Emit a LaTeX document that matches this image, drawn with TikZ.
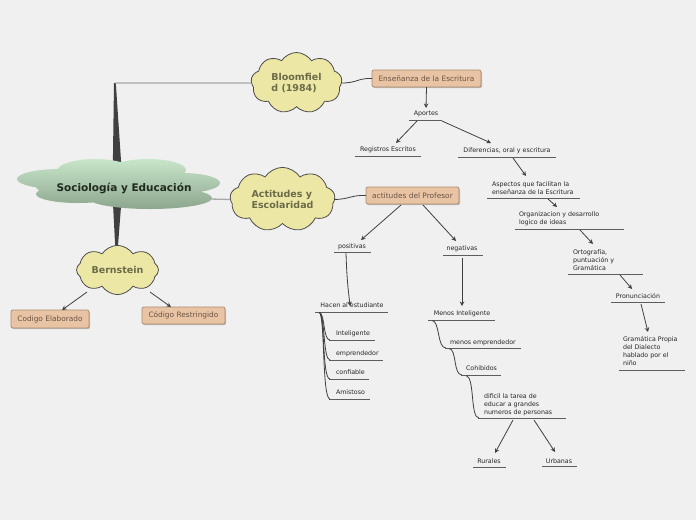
\documentclass[tikz,border=0pt]{standalone}
\usepackage{fontspec}
\setmainfont{DejaVu Sans}
\usetikzlibrary{shapes.symbols,arrows.meta,shadows,calc}
\definecolor{bg}{HTML}{F0F0F0}
\definecolor{ln}{HTML}{404040}
\definecolor{grayln}{HTML}{A8A8A8}
\definecolor{boxfill}{HTML}{E8C4A4}
\definecolor{boxdraw}{HTML}{A88A6E}
\definecolor{boxtext}{HTML}{6A5444}
\definecolor{cloudy}{HTML}{EDE7A6}
\definecolor{cloudtext}{HTML}{6B6B48}
\definecolor{grn1}{HTML}{C8E6CA}
\definecolor{grn2}{HTML}{8DA68F}
\definecolor{centtext}{HTML}{1E2A1E}
\tikzset{
  every node/.style={inner sep=0pt, outer sep=0pt},
  lbl/.style={font=\fontsize{6.3}{8}\selectfont, text=black!85, align=left, yshift=-1.3pt},
  box/.style={draw=boxdraw, fill=boxfill, rounded corners=2pt, line width=0.7pt,
    font=\fontsize{7.4}{9}\selectfont, text=boxtext,
    drop shadow={shadow xshift=1pt, shadow yshift=-1.2pt, fill=black!40, opacity=0.6}},
  ycloud/.style={cloud, cloud puffs=9, cloud puff arc=115, draw=black!70, fill=cloudy,
    line width=0.8pt, font=\bfseries\fontsize{9.5}{11}\selectfont, text=cloudtext, align=left},
  uline/.style={draw=ln!85, line width=1pt},
  arr/.style={draw=ln, line width=0.8pt, -{Stealth[length=4.5pt,width=4.5pt]}},
  curvy/.style={draw=ln, line width=0.8pt},
  trunk/.style={fill=ln},
  greyline/.style={draw=grayln, line width=1.3pt},
}
\begin{document}
\begin{tikzpicture}[x=1pt,y=-1pt]
\fill[bg] (0,0) rectangle (696,520);
\useasboundingbox (0,0) rectangle (696,520);

% trunk
\fill[trunk] (114,83) -- (115.8,83) -- (121.5,168) -- (112.8,168) -- cycle;
\fill[trunk] (112.8,200) -- (121.5,200) -- (117.5,252) -- (115.5,252) -- cycle;
\coordinate (trunktop) at (115,83);
\coordinate (centright) at (210,199);

% central cloud
\shade[top color=grn1, bottom color=grn2]
  (60,179) ellipse [x radius=43, y radius=10]
  (95,171) ellipse [x radius=38, y radius=12]
  (148,170) ellipse [x radius=38, y radius=11]
  (182,183) ellipse [x radius=38, y radius=10]
  (78,194) ellipse [x radius=42, y radius=9]
  (150,198) ellipse [x radius=62, y radius=11]
  (120,185) ellipse [x radius=85, y radius=17];
\node[font=\bfseries\fontsize{10.5}{12}\selectfont, text=centtext] (central) at (124,188) {Sociología y Educación};

% yellow clouds
\node[ycloud, aspect=1.5, minimum width=91pt, minimum height=61pt] (bloom) at (296.5,83) {Bloomfiel\\d (1984)};
\node[ycloud, aspect=1.72, minimum width=105pt, minimum height=61pt] (actit) at (282.5,199.5) {Actitudes y\\Escolaridad};
\node[ycloud, aspect=2, minimum width=82pt, minimum height=41pt, cloud puffs=8] (bern) at (117.5,270) {Bernstein};

\draw[greyline] (trunktop) -- (bloom.west);
\draw[greyline] (centright) -- (actit.west);

% boxes
\node[box, minimum width=109pt, minimum height=17pt] (ens) at (426.5,78.5) {Enseñanza de la Escritura};
\node[box, minimum width=93pt, minimum height=17pt] (prof) at (412.5,195.5) {actitudes del Profesor};
\node[box, minimum width=78pt, minimum height=18pt] (elab) at (50,319) {Codigo Elaborado};
\node[box, minimum width=83pt, minimum height=17pt] (restr) at (183.5,315.5) {Código Restringido};

\draw[curvy] (bloom.east) .. controls (358,83) and (357,78) .. (ens.west);
\draw[curvy] (actit.east) .. controls (351,199) and (350,195) .. (prof.west);

% labels
\node[lbl] (aportes) at (426,113) {Aportes};
\node[lbl] (reg) at (388,148) {Registros Escritos};
\node[lbl] (dif) at (507,149) {Diferencias, oral y escritura};
\node[lbl, anchor=west] (asp) at (492,187) {Aspectos que facilitan la\\enseñanza de la Escritura};
\node[lbl, anchor=west] (org) at (519,217.5) {Organizacion y desarrollo\\logico de ideas};
\node[lbl, anchor=west] (orto) at (573,259) {Ortografía,\\puntuación y\\Gramática};
\node[lbl] (pron) at (638,295) {Pronunciación};
\node[lbl, anchor=west] (gram) at (623,350) {Gramática Propia\\del Dialecto\\hablado por el\\niño};
\node[lbl] (pos) at (352,245) {positivas};
\node[lbl] (neg) at (462,247) {negativas};
\node[lbl] (hacen) at (352,304) {Hacen al estudiante};
\node[lbl, anchor=west] (intel) at (336,332) {Inteligente};
\node[lbl, anchor=west] (empr) at (336,352) {emprendedor};
\node[lbl, anchor=west] (conf) at (336,371) {confiable};
\node[lbl, anchor=west] (amis) at (336,391) {Amistoso};
\node[lbl] (menint) at (462,312) {Menos Inteligente};
\node[lbl, anchor=west] (menemp) at (450,341) {menos emprendedor};
\node[lbl, anchor=west] (cohib) at (466,367) {Cohibidos};
\node[lbl, anchor=west] (dific) at (484,403) {dificil la tarea de\\educar a grandes\\numeros de personas};
\node[lbl] (rur) at (489,460) {Rurales};
\node[lbl] (urb) at (559,460) {Urbanas};

% underlines
\draw[uline] (409,120.5) -- (442,120.5);
\draw[uline] (355,156) -- (421,156);
\draw[uline] (458,157) -- (556,157);
\draw[uline] (487,198) -- (580,198);
\draw[uline] (515,229) -- (624,229);
\draw[uline] (568,274) -- (643,274);
\draw[uline] (611,302) -- (665,302);
\draw[uline] (619,370) -- (685,370);
\draw[uline] (334,252.5) -- (371,252.5);
\draw[uline] (443,255) -- (483,255);
\draw[uline] (315,312) -- (388,312);
\draw[uline] (329,340) -- (375,340);
\draw[uline] (329,360) -- (383,360);
\draw[uline] (329,379) -- (369,379);
\draw[uline] (329,399) -- (370,399);
\draw[uline] (428,320) -- (495,320);
\draw[uline] (445,348) -- (521,348);
\draw[uline] (461,375) -- (501,375);
\draw[uline] (478,418) -- (566,418);
\draw[uline] (473,467) -- (506,467);
\draw[uline] (542,466) -- (577,466);

% connector coordinates
\coordinate (c1) at (426,108);
\coordinate (c2s) at (417,121); \coordinate (c2e) at (396,143);
\coordinate (c3s) at (442,121); \coordinate (c3e) at (491,143);
\coordinate (c4s) at (513,158); \coordinate (c4e) at (526,176);
\coordinate (c5s) at (548,199); \coordinate (c5e) at (557,207);
\coordinate (c6s) at (580,230); \coordinate (c6e) at (593,244);
\coordinate (c7s) at (620,275); \coordinate (c7e) at (632,289);
\coordinate (c8s) at (641,304); \coordinate (c8e) at (648,332);
\coordinate (p1s) at (401,205); \coordinate (p1e) at (361,240);
\coordinate (p2s) at (423,205); \coordinate (p2e) at (456,241);
\coordinate (p3s) at (346,253); \coordinate (p3e) at (350,306);
\coordinate (p4s) at (462,258); \coordinate (p4e) at (462,306);
\coordinate (r1s) at (513,420); \coordinate (r1e) at (495,453);
\coordinate (r2s) at (534,420); \coordinate (r2e) at (555,452);
\coordinate (b1s) at (87,292); \coordinate (b1e) at (62,310);
\coordinate (b2s) at (150,292); \coordinate (b2e) at (171,307);
\coordinate (hroot) at (319.5,312.5);
\coordinate (mroot) at (432,320.5);
\coordinate (mroot2) at (449,348.5);
\coordinate (mroot3) at (466,375.5);

\draw[arr] (ens.south) -- (c1);
\draw[arr] (c2s) -- (c2e);
\draw[arr] (c3s) -- (c3e);
\draw[arr] (c4s) -- (c4e);
\draw[arr] (c5s) -- (c5e);
\draw[arr] (c6s) -- (c6e);
\draw[arr] (c7s) -- (c7e);
\draw[arr] (c8s) -- (c8e);
\draw[arr] (p1s) -- (p1e);
\draw[arr] (p2s) -- (p2e);
\draw[arr] (p3s) .. controls (347,285) and (349,295) .. (p3e);
\draw[arr] (p4s) -- (p4e);
\draw[arr] (r1s) -- (r1e);
\draw[arr] (r2s) -- (r2e);
\draw[arr] (b1s) -- (b1e);
\draw[arr] (b2s) -- (b2e);

% tree branches of "Hacen al estudiante"
\draw[curvy] (hroot) .. controls (325,314) and (323,340) .. (330,340);
\draw[curvy] (hroot) .. controls (325,315) and (323,360) .. (330,360);
\draw[curvy] (hroot) .. controls (325,316) and (322,379) .. (330,379);
\draw[curvy] (hroot) .. controls (325,317) and (322,399) .. (330,399);

% chain of "Menos Inteligente"
\draw[curvy] (mroot) .. controls (440,321) and (437,348) .. (446,348);
\draw[curvy] (mroot2) .. controls (457,349) and (453,375) .. (462,375);
\draw[curvy] (mroot3) .. controls (475,377) and (470,418) .. (479,418);
\end{tikzpicture}
\end{document}
